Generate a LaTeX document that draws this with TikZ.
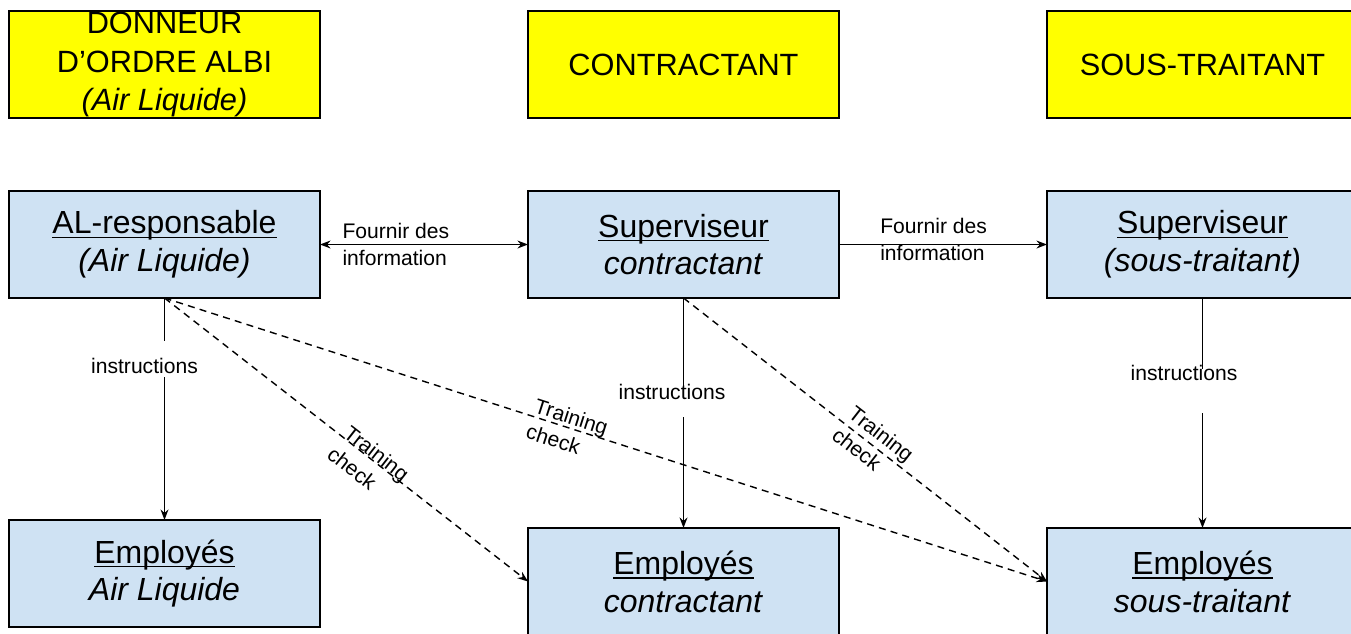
\documentclass[tikz,border=0pt]{standalone}
\usepackage{fontspec}
\setmainfont{Liberation Sans}
\usetikzlibrary{arrows.meta, positioning}
\definecolor{jaune}{HTML}{FFFF00}
\definecolor{bleu}{HTML}{CFE2F3}
\newsavebox{\motbox}
\newcommand{\souligne}[1]{\sbox{\motbox}{#1}\rlap{\usebox{\motbox}}\rule[-2.5pt]{\wd\motbox}{0.9pt}}

\begin{document}
\begin{tikzpicture}[>={Stealth[length=6pt,width=4.5pt]}, node distance=1.46cm and 4.16cm,
        every node/.style={outer sep=0pt},
        entete/.style={draw, line width=0.9pt, fill=jaune, minimum width=6.22cm, minimum height=2.14cm, inner sep=0pt, align=center, font=\fontsize{17.5}{22}\selectfont},
        acteur/.style={entete, fill=bleu, font=\fontsize{18.2}{21.5}\selectfont},
        lien/.style={->, line width=0.8pt},
        controle/.style={lien, dash pattern=on 4pt off 3pt},
        etiquette/.style={font=\fontsize{12}{15.3}\selectfont, align=left, inner sep=1pt},
        consigne/.style={font=\fontsize{12}{15}\selectfont, anchor=base, fill=white, inner xsep=2pt, inner ysep=0pt}]
        \useasboundingbox (0,0) rectangle (27.02,-12.66);
        % en-tetes
        \node[entete] (donneur) at (3.29,-1.29) {DONNEUR\\D’ORDRE ALBI\\\textit{(Air Liquide)}};
        \node[entete] (contractant) [right=of donneur] {CONTRACTANT};
        \node[entete] (soustraitant) [right=of contractant] {SOUS-TRAITANT};
        % acteurs
        \node[acteur] (alresp) [below=of donneur] {\souligne{AL-responsable}\\\textit{(Air Liquide)}};
        \node[acteur] (supcont) [below=of contractant] {\souligne{Superviseur}\\\textit{contractant}};
        \node[acteur] (supsous) [below=of soustraitant] {\souligne{Superviseur}\\\textit{(sous-traitant)}};
        \node[acteur] (empal) [below=4.44cm of alresp] {\souligne{Employés}\\\textit{Air Liquide}};
        \node[acteur] (empcont) [below=4.6cm of supcont] {\souligne{Employés}\\\textit{contractant}};
        \node[acteur] (empsous) [below=4.6cm of supsous] {\souligne{Employés}\\\textit{sous-traitant}};
        % liens
        \draw[lien, <->] (alresp) -- node[etiquette, anchor=west, pos=0.1] {Fournir des\\information} (supcont);
        \draw[lien] (supcont) -- node[etiquette, anchor=west, pos=0.19, yshift=3pt] {Fournir des\\information} (supsous);
        \draw[lien] (alresp) -- node[consigne, pos=0.338, xshift=-0.4cm, text height=18pt, text depth=2pt] {instructions} (empal);
        \draw[lien] (supcont) -- node[consigne, pos=0.443, xshift=-0.23cm, text height=5.5pt, text depth=9.5pt] {instructions} (empcont);
        \draw[lien] (supsous) -- node[consigne, pos=0.357, xshift=-0.37cm, text height=6.5pt, text depth=18.5pt] {instructions} (empsous);
        \draw[controle] (alresp.south) -- node[etiquette, sloped, pos=0.57, below=-10pt] {Training\\check} (empcont.west);
        \draw[controle] (alresp.south) -- node[etiquette, sloped, pos=0.457, below=-12pt] {Training\\check} (empsous.west);
        \draw[controle] (supcont.south) -- node[etiquette, sloped, pos=0.52, above=-12.5pt] {Training\\check} (empsous.west);
\end{tikzpicture}
\end{document}
